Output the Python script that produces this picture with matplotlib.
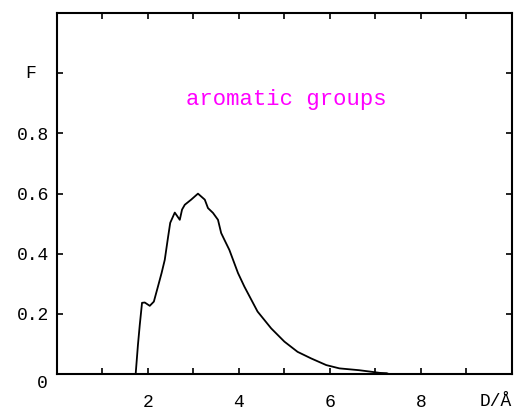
import matplotlib
matplotlib.use("Agg")
import matplotlib.pyplot as plt

# Data
D = [1.73, 1.78, 1.82, 1.87, 1.93, 2.04, 2.13, 2.22, 2.30, 2.37, 2.44, 2.49,
     2.59, 2.65, 2.70, 2.75, 2.81, 2.95, 3.10, 3.25, 3.32, 3.43, 3.54, 3.61,
     3.68, 3.79, 3.98, 4.12, 4.41, 4.71, 5.00, 5.29, 5.59, 5.92, 6.21, 6.64,
     6.90, 7.10, 7.25, 7.30]
F = [0.0, 0.097, 0.163, 0.237, 0.238, 0.227, 0.241, 0.291, 0.336, 0.38, 0.453,
     0.503, 0.537, 0.524, 0.513, 0.547, 0.563, 0.58, 0.60, 0.58, 0.552, 0.536,
     0.513, 0.469, 0.447, 0.413, 0.336, 0.291, 0.208, 0.152, 0.108, 0.074,
     0.052, 0.03, 0.019, 0.013, 0.008, 0.004, 0.003, 0.0]

x_ticks = [1, 2, 3, 4, 5, 6, 7, 8, 9]
x_labels = ["", "2", "", "4", "", "6", "", "8", ""]
y_ticks = [0.2, 0.4, 0.6, 0.8, 1.0]
y_labels = ["0.2", "0.4", "0.6", "0.8", ""]
title_text = "aromatic groups"

mono = ["Liberation Mono", "DejaVu Sans Mono"]

fig = plt.figure(figsize=(5.18, 4.12), dpi=100)
ax = fig.add_axes([0.110, 0.092, 0.878, 0.876])
ax.plot(D, F, color="black", lw=1.3)
ax.set_xlim(0, 10)
ax.set_ylim(0, 1.2)

ax.set_xticks(x_ticks)
ax.set_xticklabels(x_labels, fontsize=13, family=mono)
ax.set_yticks(y_ticks)
ax.set_yticklabels(y_labels, fontsize=13, family=mono)
ax.tick_params(direction="in", length=4, width=1.2, top=True, right=True)
ax.tick_params(axis="x", pad=14)
ax.tick_params(axis="y", pad=6)
for s in ax.spines.values():
    s.set_linewidth(1.5)

ax.text(5.04, 0.913, title_text, color="#ff00ff", fontsize=16, family=mono,
        ha="center", va="center")
ax.text(-0.59, 1.0, "F", fontsize=13, family=mono, ha="center", va="center",
        clip_on=False)
ax.text(-0.32, -0.03, "0", fontsize=13, family=mono, ha="center", va="center",
        clip_on=False)
ax.text(9.65, -0.09, "D/Å", fontsize=13, family=mono, ha="center", va="center",
        clip_on=False)

fig.savefig("out.png", dpi=100)
